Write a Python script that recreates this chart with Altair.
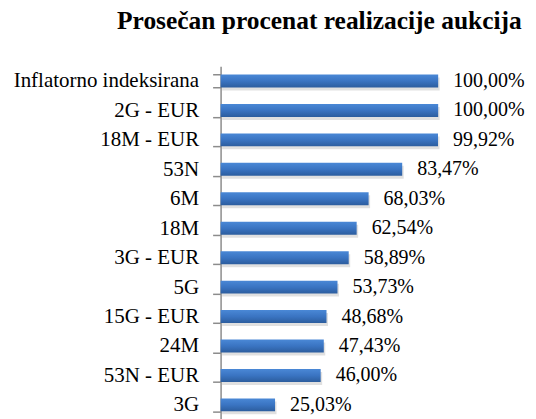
import altair as alt
import pandas as pd

categories = ["Inflatorno indeksirana", "2G - EUR", "18M - EUR", "53N", "6M", "18M",
              "3G - EUR", "5G", "15G - EUR", "24M", "53N - EUR", "3G"]
values = [100.00, 100.00, 99.92, 83.47, 68.03, 62.54, 58.89, 53.73, 48.68, 47.43, 46.00, 25.03]
labels = [f"{v:.2f}".replace(".", ",") + "%" for v in values]

df = pd.DataFrame({"cat": categories, "val": values, "lab": labels})

FONT = "'Liberation Serif', 'Times New Roman', serif"

y_enc = alt.Y(
    "cat:N",
    sort=categories,
    scale=alt.Scale(paddingInner=0.56, paddingOuter=0.28),
    axis=alt.Axis(
        title=None,
        tickBand="extent",
        domainColor="#8c8c8c",
        domainWidth=1.5,
        tickColor="#8c8c8c",
        tickWidth=1.5,
        tickSize=8,
        labelPadding=14,
        labelFont=FONT,
        labelFontSize=21,
        labelColor="#000000",
        labelLimit=400,
    ),
)
x_enc = alt.X("val:Q", scale=alt.Scale(domain=[0, 100]), axis=None)

base = alt.Chart(df)

shadow = base.mark_bar(color="#000000", opacity=0.12, xOffset=1.5, yOffset=3).encode(x=x_enc, y=y_enc)

bars = base.mark_bar(
    color=alt.Gradient(
        gradient="linear",
        stops=[
            alt.GradientStop(color="#4a88d6", offset=0),
            alt.GradientStop(color="#3a74c2", offset=0.5),
            alt.GradientStop(color="#2c5d9e", offset=1),
        ],
        x1=0, x2=0, y1=0, y2=1,
    )
).encode(x=x_enc, y=y_enc)

text = base.mark_text(
    align="left", baseline="middle", dx=15, font=FONT, fontSize=20, color="#000000"
).encode(x=x_enc, y=y_enc, text="lab:N")

chart = alt.layer(shadow, bars, text).properties(
    width=218,
    height=354,
    padding={"left": 213, "top": 58, "right": 90, "bottom": 0},
    autosize=alt.AutoSizeParams(type="none"),
    title=alt.TitleParams(
        text="Prosečan procenat realizacije aukcija",
        font=FONT,
        fontSize=25.5,
        fontWeight="bold",
        color="#000000",
        anchor="middle",
        dx=-10,
        offset=1,
        baseline="alphabetic",
    ),
).configure_view(stroke=None)

chart.save("out.html", embed_options={"renderer": "svg", "actions": False})
